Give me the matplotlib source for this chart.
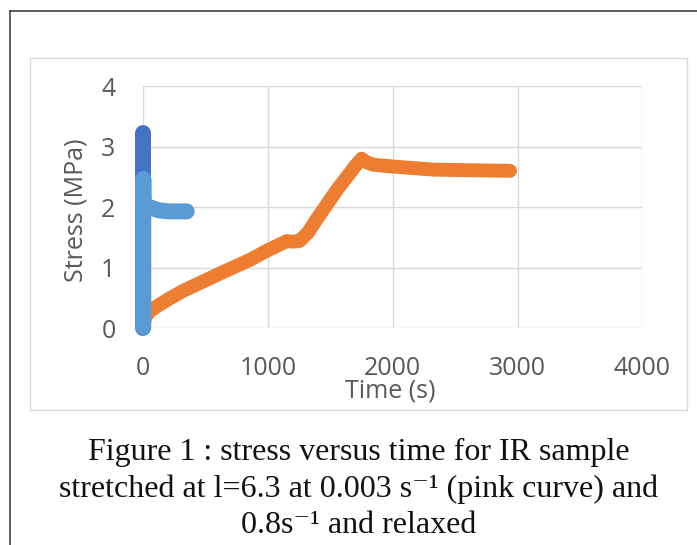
import matplotlib
matplotlib.use("Agg")
import matplotlib.pyplot as plt
from matplotlib.lines import Line2D
from matplotlib.patches import Rectangle

W, H = 697, 545

# orange curve: slow stretch then relaxation
orange_t = [0, 15, 50, 107, 200, 321, 641, 855, 989, 1100, 1150, 1200, 1250, 1320,
            1390, 1550, 1700, 1750, 1790, 1844, 2004, 2325, 2600, 2940]
orange_s = [0.05, 0.18, 0.28, 0.36, 0.48, 0.62, 0.93, 1.13, 1.28, 1.39, 1.44, 1.43, 1.44, 1.58,
            1.80, 2.28, 2.68, 2.80, 2.74, 2.70, 2.67, 2.62, 2.61, 2.60]
# dark blue curve: fast stretch
dark_t = [0, 0]
dark_s = [0.0, 3.22]
# light blue curve: fast stretch then relaxed
light_t = [0, 0, 2, 50, 120, 200, 348]
light_s = [0.02, 2.47, 2.05, 2.00, 1.95, 1.93, 1.93]

x_ticks = [0, 1000, 2000, 3000, 4000]
y_ticks = [0, 1, 2, 3, 4]

caption = ["Figure 1 : stress versus time for IR sample",
           "stretched at l=6.3 at 0.003 s\u207b\u00b9 (pink curve) and",
           "0.8s\u207b\u00b9 and relaxed"]

plt.rcParams["font.family"] = ["Open Sans", "DejaVu Sans"]

fig = plt.figure(figsize=(W / 100, H / 100), dpi=100)


def fx(px):
    return px / W


def fy(py):
    return 1 - py / H


# outer document frame
fig.add_artist(Line2D([fx(9.5), fx(9.5)], [fy(11), fy(H)], color="#333333", lw=1.1))
fig.add_artist(Line2D([fx(9.5), fx(W)], [fy(11), fy(11)], color="#333333", lw=1.1))
# chart box
fig.add_artist(Rectangle((fx(30), fy(409.5)), fx(687) - fx(30), fy(57.7) - fy(409.5),
                         fill=False, edgecolor="#D9D9D9", lw=1.0))

ax = fig.add_axes([fx(143.3), fy(328.3), fx(642.3) - fx(143.3), fy(86) - fy(328.3)])

ax.plot(orange_t, orange_s, color="#ED7D31", lw=10, solid_capstyle="round",
        solid_joinstyle="round", zorder=3, clip_on=False)
ax.plot(dark_t, dark_s, color="#4472C4", lw=11.5, solid_capstyle="round", zorder=4,
        clip_on=False)
ax.plot(light_t, light_s, color="#5B9BD5", lw=11.5, solid_capstyle="round",
        solid_joinstyle="round", zorder=5, clip_on=False)

ax.set_xlim(0, 4000)
ax.set_ylim(0, 4)
ax.set_xticks(x_ticks)
ax.set_yticks(y_ticks)
ax.grid(True, color="#D9D9D9", lw=1.0)
ax.set_axisbelow(True)
for s in ax.spines.values():
    s.set_visible(False)
ax.tick_params(length=0, labelsize=18, labelcolor="#595959")
ax.tick_params(axis="x", pad=20)
ax.tick_params(axis="y", pad=20)

fig.text(fx(390.5), fy(398), "Time (s)", ha="center", va="baseline",
         fontsize=18, color="#595959")
fig.text(fx(76), fy(210), "Stress (MPa)", ha="center", va="center", rotation=90,
         fontsize=18, color="#595959")

for i, line in enumerate(caption):
    fig.text(fx(359), fy(460 + 36.6 * i), line, ha="center", va="baseline",
             fontsize=23, color="#111111",
             family=["Liberation Serif", "DejaVu Serif"])

fig.savefig("out.png", dpi=100)
